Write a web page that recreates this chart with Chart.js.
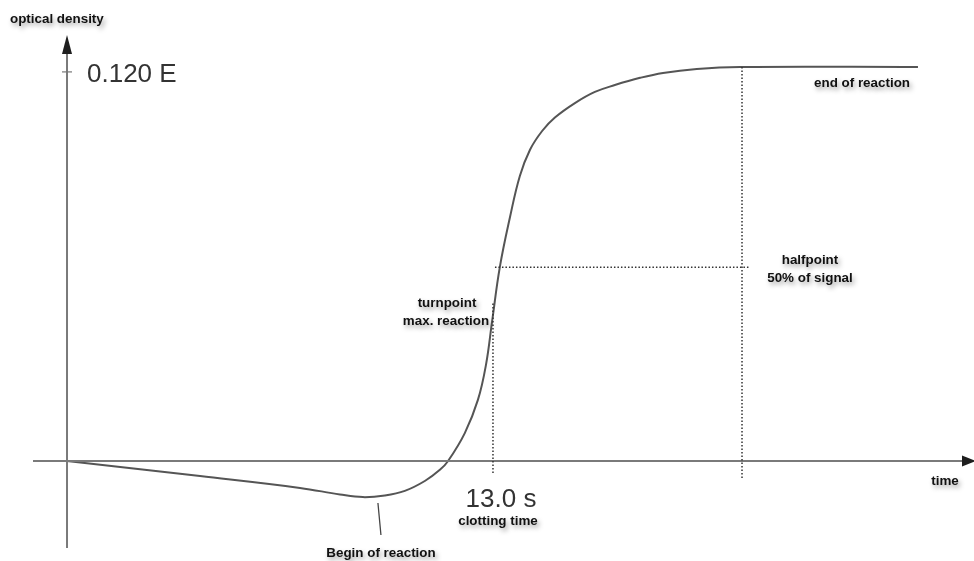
<!DOCTYPE html>
<html><head><meta charset="utf-8">
<script src="https://cdn.jsdelivr.net/npm/chart.js@4"></script>
<style>html,body{margin:0;padding:0;background:#fff}#wrap{width:974px;height:561px}</style>
</head><body><div id="wrap"><canvas id="c"></canvas></div>
<script>
// time in seconds, optical density in E
const timeSec = [0, 4.06, 7.11, 8.33, 9.03, 9.70, 10.31, 10.92, 11.38, 11.63, 12.14, 12.54, 12.79, 12.97, 13.21, 13.52, 13.82, 14.13, 14.50, 14.89, 15.50, 16.11, 16.72, 17.49, 18.19, 19.22, 20.54, 25.97];
const density = [0, -0.0046, -0.0082, -0.0102, -0.0110, -0.0105, -0.0091, -0.0061, -0.0027, 0, 0.0085, 0.0186, 0.0295, 0.0423, 0.0591, 0.0743, 0.0868, 0.0948, 0.1005, 0.1046, 0.1090, 0.1124, 0.1145, 0.1167, 0.1182, 0.1194, 0.1200, 0.1200];
const maxDensity = 0.120;
const tickDensity = 0.1185;
const clottingTime = 13.0;
const halfSignal = 0.059;
const endTime = 20.6;
const beginTime = 9.55;

const pts = timeSec.map((t, i) => ({x: t, y: density[i]}));

const deco = {
  id: 'deco',
  afterDatasetsDraw(chart) {
    const ctx = chart.ctx, xs = chart.scales.x, ys = chart.scales.y;
    const X = v => xs.getPixelForValue(v), Y = v => ys.getPixelForValue(v);
    const x0 = X(0), y0 = Y(0);
    ctx.save();
    // axes
    ctx.strokeStyle = '#7a7a7a'; ctx.lineWidth = 2;
    ctx.beginPath(); ctx.moveTo(33, y0); ctx.lineTo(966, y0); ctx.stroke();
    ctx.beginPath(); ctx.moveTo(x0, 548); ctx.lineTo(x0, 50); ctx.stroke();
    ctx.fillStyle = '#1e1e1e';
    ctx.beginPath(); ctx.moveTo(x0, 35); ctx.lineTo(x0 - 5, 54); ctx.lineTo(x0 + 5, 54); ctx.closePath(); ctx.fill();
    ctx.beginPath(); ctx.moveTo(976, y0); ctx.lineTo(962, y0 - 5.5); ctx.lineTo(962, y0 + 5.5); ctx.closePath(); ctx.fill();
    // tick near max
    ctx.strokeStyle = '#777'; ctx.lineWidth = 1.2;
    ctx.beginPath(); ctx.moveTo(x0 - 5, Y(tickDensity)); ctx.lineTo(x0 + 5, Y(tickDensity)); ctx.stroke();
    // dotted lines
    ctx.strokeStyle = '#333'; ctx.lineWidth = 1.5; ctx.setLineDash([1.5, 2]);
    ctx.beginPath(); ctx.moveTo(X(clottingTime), Y(0.048)); ctx.lineTo(X(clottingTime), y0 + 14); ctx.stroke();
    ctx.beginPath(); ctx.moveTo(X(endTime), Y(maxDensity)); ctx.lineTo(X(endTime), y0 + 17); ctx.stroke();
    ctx.beginPath(); ctx.moveTo(X(13.06), Y(halfSignal)); ctx.lineTo(X(endTime) + 8, Y(halfSignal)); ctx.stroke();
    ctx.setLineDash([]);
    // pointer for begin
    ctx.strokeStyle = '#444'; ctx.lineWidth = 1.3;
    ctx.beginPath(); ctx.moveTo(X(beginTime) - 2, Y(-0.0128)); ctx.lineTo(X(beginTime) + 1, 535); ctx.stroke();
    // texts
    const bold = '700 13.4px "Liberation Sans", Arial, sans-serif';
    const big = '26px "Liberation Sans", Arial, sans-serif';
    function txt(s, x, y, font, align, col, shadow) {
      ctx.font = font; ctx.textAlign = align; ctx.textBaseline = 'middle';
      if (shadow) { ctx.shadowColor = 'rgba(0,0,0,0.38)'; ctx.shadowBlur = 5; ctx.shadowOffsetX = 2; ctx.shadowOffsetY = 3; }
      ctx.fillStyle = col; ctx.fillText(s, x, y);
      ctx.shadowColor = 'transparent'; ctx.shadowBlur = 0; ctx.shadowOffsetX = 0; ctx.shadowOffsetY = 0;
    }
    txt('optical density', 10, 19, bold, 'left', '#111', true);
    txt('0.120 E', 87, 75, big, 'left', '#333', false);
    txt('end of reaction', 862, 83, bold, 'center', '#111', true);
    txt('halfpoint', 810, 260, bold, 'center', '#111', true);
    txt('50% of signal', 810, 278, bold, 'center', '#111', true);
    txt('turnpoint', 447, 303, bold, 'center', '#111', true);
    txt('max. reaction', 446, 321, bold, 'center', '#111', true);
    txt('13.0 s', 501, 500, big, 'center', '#333', false);
    txt('clotting time', 498, 521, bold, 'center', '#111', true);
    txt('Begin of reaction', 381, 553, bold, 'center', '#111', true);
    txt('time', 945, 481, bold, 'center', '#111', true);
    ctx.restore();
  }
};

new Chart(document.getElementById('c'), {
  type: 'line',
  data: { datasets: [{ data: pts, borderColor: '#555', borderWidth: 2, pointRadius: 0, tension: 0.4, fill: false }] },
  options: {
    responsive: true, maintainAspectRatio: false, animation: false,
    layout: { padding: 0 },
    plugins: { legend: { display: false }, tooltip: { enabled: false } },
    scales: {
      x: { type: 'linear', display: false, min: -2.045, max: 27.68 },
      y: { type: 'linear', display: false, min: -0.03046, max: 0.1404 }
    }
  },
  plugins: [deco]
});
</script>
</body></html>
